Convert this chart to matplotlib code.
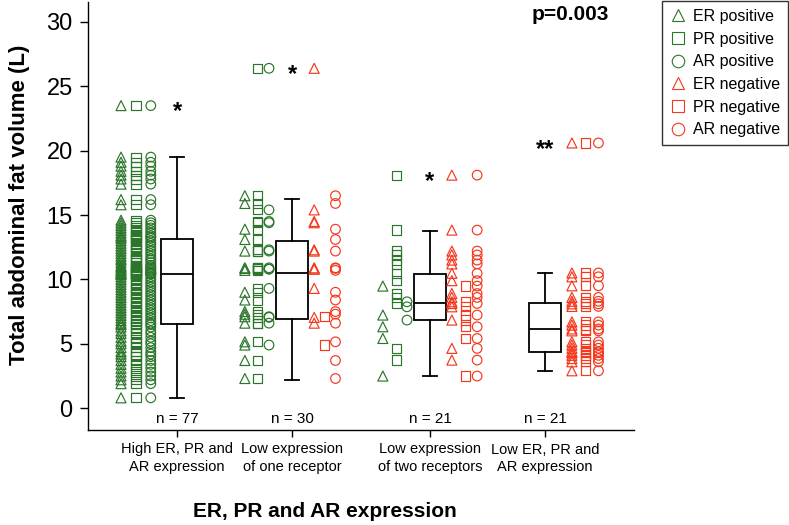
import matplotlib
matplotlib.use("Agg")
import matplotlib.pyplot as plt
from matplotlib.lines import Line2D

plt.rcParams['font.family'] = ['Liberation Sans', 'DejaVu Sans']

# groups on the x axis
group_labels = ["High ER, PR and\nAR expression", "Low expression\nof one receptor",
                "Low expression\nof two receptors", "Low ER, PR and\nAR expression"]
group_n = [77, 30, 21, 21]

# group 1: all receptors positive (one value per patient)
g1_vals = [23.5, 19.5, 19.1, 18.8, 18.4, 18.1, 17.8, 17.4, 16.2, 15.8,
           14.6, 14.4, 14.2, 14.0, 13.8, 13.6, 13.4, 13.3, 13.2,
           13.0, 12.8, 12.6, 12.4, 12.2, 12.0, 11.8, 11.6, 11.5, 11.3,
           11.1, 11.0, 10.9, 10.8, 10.7, 10.6, 10.5, 10.45, 10.42, 10.4,
           10.2, 10.0, 9.8, 9.6, 9.4, 9.2, 9.0, 8.8, 8.6, 8.4,
           8.2, 8.0, 7.8, 7.6, 7.4, 7.2, 7.0, 6.8, 6.6,
           6.5, 6.3, 6.0, 5.8, 5.5, 5.2, 5.0, 4.7, 4.4, 4.2,
           4.0, 3.7, 3.4, 3.1, 2.8, 2.5, 2.2, 1.9, 0.8]

# group 2: one receptor negative
g2_vals = [26.4, 15.4, 14.5, 14.4, 12.3, 12.2, 10.9, 10.8, 10.8, 9.3, 7.05, 6.6,
           7.1, 4.9,
           16.5, 15.9, 13.9, 13.1, 12.2, 10.9, 10.85, 10.7, 9.0, 8.4, 7.5, 7.3, 6.6,
           5.15, 3.7, 2.3]
g2_neg = ["ER"] * 12 + ["PR"] * 2 + ["AR"] * 16

# group 3: two receptors negative
g3_vals = [9.48, 7.23, 6.32, 5.41, 2.49,
           8.26, 7.87, 6.84,
           18.1, 13.83, 12.2, 11.9, 11.5, 11.2, 10.47, 9.9, 8.9, 8.6, 8.13, 4.64, 3.73]
g3_neg = ["PR AR"] * 5 + ["ER PR"] * 3 + ["ER AR"] * 13

# group 4: all receptors negative
g4_vals = [20.6, 10.5, 10.2, 9.5, 8.6, 8.3, 8.1, 7.9, 6.7, 6.45, 6.15, 6.0,
           5.15, 4.9, 4.65, 4.4, 4.3, 4.1, 3.85, 3.6, 2.9]

# box plot summaries
box_med = [10.41, 10.51, 8.13, 6.14]
box_q1 = [6.50, 6.92, 6.81, 4.37]
box_q3 = [13.13, 12.95, 10.39, 8.18]
box_lo = [0.80, 2.20, 2.49, 2.85]
box_hi = [19.53, 16.24, 13.78, 10.47]
stars = ["*", "*", "*", "**"]

groups = [
    (g1_vals, [""] * len(g1_vals)),
    (g2_vals, g2_neg),
    (g3_vals, g3_neg),
    (g4_vals, ["ER PR AR"] * len(g4_vals)),
]

positions = [1, 2, 3.2, 4.2]
green = "#2b762b"
red = "#f5371c"
receptors = ["ER", "PR", "AR"]
markers = {"ER": "^", "PR": "s", "AR": "o"}
msize = {"ER": 52, "PR": 44, "AR": 48}
# column offsets (positive / negative) for each group
pos_off = [
    {"ER": -0.487, "PR": -0.357, "AR": -0.228},
    {"ER": -0.41, "PR": -0.30, "AR": -0.20},
    {"ER": -0.41, "PR": -0.29, "AR": -0.20},
    None,
]
neg_off = [
    None,
    {"ER": 0.193, "PR": 0.285, "AR": 0.378},
    {"ER": 0.19, "PR": 0.31, "AR": 0.41},
    {"ER": 0.234, "PR": 0.35, "AR": 0.465},
]

fig = plt.figure(figsize=(7.89, 5.25), dpi=100)
ax = fig.add_axes([88 / 789, 1 - 430 / 525, (634 - 88) / 789, 428 / 525])

for gi, (vals, negs) in enumerate(groups):
    x0 = positions[gi]
    for r in receptors:
        pv = [v for v, n in zip(vals, negs) if r not in n]
        nv = [v for v, n in zip(vals, negs) if r in n]
        if pv:
            ax.scatter([x0 + pos_off[gi][r]] * len(pv), pv, marker=markers[r], s=msize[r],
                       facecolors="none", edgecolors=green, linewidths=0.85, zorder=3)
        if nv:
            ax.scatter([x0 + neg_off[gi][r]] * len(nv), nv, marker=markers[r], s=msize[r],
                       facecolors="none", edgecolors=red, linewidths=0.85, zorder=3)
    ax.text(x0, max(vals) - 1.0, stars[gi], ha="center", va="baseline",
            fontsize=17, fontweight="bold")
    ax.text(x0, -1.17, "n = %d" % group_n[gi], ha="center", va="baseline", fontsize=11)

stats = []
for i in range(4):
    stats.append({"med": box_med[i], "q1": box_q1[i], "q3": box_q3[i],
                  "whislo": box_lo[i], "whishi": box_hi[i], "fliers": []})
lp = dict(color="black", linewidth=1.3)
ax.bxp(stats, positions=positions, widths=0.27, capwidths=0.13, showfliers=False,
       boxprops=lp, whiskerprops=lp, capprops=lp, medianprops=lp,
       patch_artist=True, manage_ticks=False)
for patch in ax.patches:
    patch.set_facecolor("white")
    patch.set_zorder(2)

ax.set_xlim(0.226, 4.974)
ax.set_ylim(-1.7, 31.55)
ax.set_yticks([0, 5, 10, 15, 20, 25, 30])
ax.set_xticks(positions)
ax.set_xticklabels(group_labels, fontsize=10.5, linespacing=1.3)
ax.tick_params(axis="y", labelsize=17, length=6, width=1, pad=5)
ax.tick_params(axis="x", length=5, width=1, pad=4)
ax.spines["top"].set_visible(False)
ax.spines["right"].set_visible(False)
ax.spines["left"].set_linewidth(1)
ax.spines["bottom"].set_linewidth(1)

fig.text(20 / 789, 1 - 205 / 525, "Total abdominal fat volume (L)", rotation=90,
         ha="center", va="center", fontsize=16, fontweight="bold")
fig.text(325 / 789, 1 - 517 / 525, "ER, PR and AR expression", ha="center",
         va="baseline", fontsize=15, fontweight="bold")
fig.text(532 / 789, 1 - 20 / 525, "p=0.003", ha="left", va="baseline",
         fontsize=15, fontweight="bold")

handles = []
for col, word in [(green, "positive"), (red, "negative")]:
    for r in receptors:
        handles.append(Line2D([], [], linestyle="none", marker=markers[r], markersize=9,
                              markerfacecolor="none", markeredgecolor=col,
                              markeredgewidth=0.8, label=r + " " + word))
leg = fig.legend(handles=handles, loc="upper right", bbox_to_anchor=(788 / 789, 1 - 1 / 525),
                 fontsize=11.5, frameon=True, fancybox=False, edgecolor="black",
                 handlelength=1.0, handletextpad=0.45, labelspacing=0.48, borderpad=0.5,
                 borderaxespad=0)
leg.get_frame().set_linewidth(1)

fig.savefig("out.png", dpi=100)
